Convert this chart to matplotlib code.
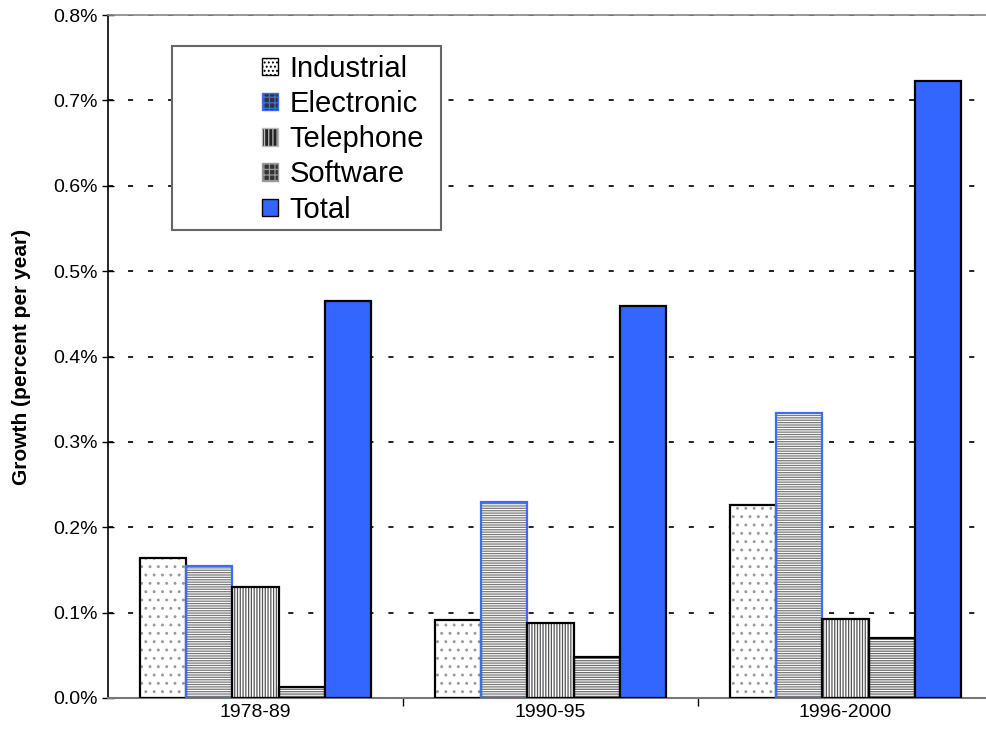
import numpy as np
import matplotlib.pyplot as plt
from matplotlib.patches import Patch, Rectangle

plt.rcParams['font.family'] = ['Liberation Sans', 'DejaVu Sans']
plt.rcParams['hatch.linewidth'] = 0.9

periods = ['1978-89', '1990-95', '1996-2000']
series = ['Industrial', 'Electronic', 'Telephone', 'Software', 'Total']
industrial = [0.164, 0.091, 0.226]
electronic = [0.155, 0.230, 0.334]
telephone = [0.130, 0.088, 0.093]
software = [0.013, 0.048, 0.070]
total = [0.465, 0.459, 0.723]
values = [industrial, electronic, telephone, software, total]

# fill, hatch, hatch colour, outline colour
styles = [
    ('white', '..', '#9a9a9a', 'black'),
    ('white', '-------', '#7a7a7a', '#3d6cf0'),
    ('white', '||||||', '#555555', 'black'),
    ('white', '-------', '#6a6a6a', 'black'),
    ('#3366ff', None, None, 'black'),
]
# legend swatches are small, so they get a denser, darker look
legend_styles = [
    ('white', '....', 'black', 'black'),
    ('#333333', '+++', '#3d6cf0', '#3d6cf0'),
    ('#222222', '||||', '#bbbbbb', 'black'),
    ('#333333', '+++', '#999999', 'black'),
    ('#3366ff', None, None, 'black'),
]

fig = plt.figure(figsize=(9.86, 7.4), dpi=100)
ax = fig.add_axes([108 / 986, 42 / 740, 885 / 986, 683 / 740])

x = np.arange(len(periods))
width = 0.156
offsets = (np.arange(len(series)) - 2) * width

for vals, off, (fc, hatch, hc, ec) in zip(values, offsets, styles):
    if hatch:
        ax.bar(x + off, vals, width, color=fc, hatch=hatch, edgecolor=hc,
               linewidth=0, zorder=2)
        ax.bar(x + off, vals, width, fill=False, edgecolor=ec, linewidth=1.6, zorder=3)
    else:
        ax.bar(x + off, vals, width, color=fc, edgecolor=ec, linewidth=1.6, zorder=3)

ax.set_xlim(-0.5, 2.5)
ax.set_ylim(0, 0.8)
yt = np.arange(0, 0.81, 0.1)
ax.set_yticks(yt)
ax.set_yticklabels(['%.1f%%' % v for v in yt], fontsize=14)
ax.set_xticks([0.5, 1.5])
ax.set_xticklabels([])
ax.set_xticks(x, minor=True)
ax.set_xticklabels(periods, minor=True, fontsize=14)
ax.tick_params(axis='x', which='minor', length=0, pad=4)
ax.tick_params(axis='x', which='major', length=6, direction='out', width=1, color='black')
ax.tick_params(axis='y', length=8, direction='inout', width=1)

ax.yaxis.grid(True, color='#222222', linestyle=(0, (2.6, 7.7)), linewidth=1.4, zorder=0)
ax.set_axisbelow(True)
ax.spines['left'].set_color('black')
ax.spines['left'].set_linewidth(1.2)
ax.spines['bottom'].set_color('#777777')
ax.spines['bottom'].set_linewidth(1.5)
ax.spines['top'].set_color('#888888')
ax.spines['top'].set_linewidth(1.2)
ax.spines['right'].set_visible(False)

ax.set_ylabel('Growth (percent per year)', fontsize=15, fontweight='bold', labelpad=16)

# legend: boxed area with the entries pushed to the right
ax.add_patch(Rectangle((0.0723, 0.685), 0.304, 0.269, transform=ax.transAxes,
                       facecolor='white', edgecolor='#666666', linewidth=1.5, zorder=5))
handles = [Patch(facecolor=fc, hatch=h, edgecolor=hc if h else ec, linewidth=1)
           for fc, h, hc, ec in legend_styles]
leg = ax.legend(handles, series, loc='upper left', bbox_to_anchor=(0.1735, 0.942),
                fontsize=21, frameon=False, handlelength=0.55, handleheight=0.55,
                handletextpad=0.4, labelspacing=0.25, borderpad=0, borderaxespad=0)
leg.set_zorder(6)

plt.savefig('out.png', dpi=100)
